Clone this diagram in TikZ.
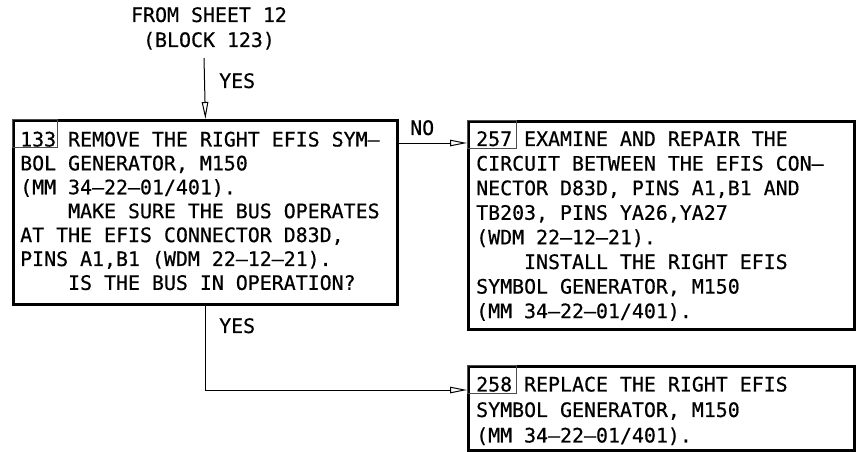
\documentclass[tikz,border=0pt]{standalone}
\usepackage{fontspec}
\usetikzlibrary{arrows.meta,calc}
\newfontfamily\monof[FakeBold=0.5]{DejaVu Sans Mono}
\newcommand{\indt}{\phantom{XXXX}}
\begin{document}
\begin{tikzpicture}[x=1pt,y=-1pt,
  box/.style={draw, line width=2.8pt, rectangle, inner sep=0pt, anchor=north west},
  numbox/.style={draw, line width=0.8pt, draw=black!70, rectangle, inner sep=0pt, anchor=north west, minimum width=49pt, minimum height=28pt},
  txt/.style={inner sep=0pt, align=left, anchor=north west},
  lbl/.style={inner sep=0pt, anchor=north west, font=\monof\fontsize{19.9}{25}\selectfont},
  arr/.style={line width=1pt, -{Triangle[open, length=17pt, width=6.5pt]}},
  ln/.style={line width=1pt}]
\useasboundingbox (0,0) rectangle (858,451);
\fill[white] (0,0) rectangle (858,451);

% boxes
\node[box, minimum width=384pt, minimum height=184pt] (b133) at (12,119) {};
\node[box, minimum width=386pt, minimum height=208pt] (b257) at (467,120) {};
\node[box, minimum width=386pt, minimum height=84pt] (b258) at (467,365) {};

% number boxes
\node[numbox, minimum width=45pt] (n133) at (b133.north west) {};
\node[numbox] (n257) at (b257.north west) {};
\node[numbox] (n258) at (b258.north west) {};

% texts
\node[txt, font=\monof\fontsize{19.9}{23.9}\selectfont] (t133) at (20,131.5) {133 REMOVE THE RIGHT EFIS SYM–\\
BOL GENERATOR, M150\\
(MM 34–22–01/401).\\
\indt MAKE SURE THE BUS OPERATES\\
AT THE EFIS CONNECTOR D83D,\\
PINS A1,B1 (WDM 22–12–21).\\
\indt IS THE BUS IN OPERATION?};

\node[txt, font=\monof\fontsize{19.9}{24.6}\selectfont] (t257) at (476,131) {257 EXAMINE AND REPAIR THE\\
CIRCUIT BETWEEN THE EFIS CON–\\
NECTOR D83D, PINS A1,B1 AND\\
TB203, PINS YA26,YA27\\
(WDM 22–12–21).\\
\indt INSTALL THE RIGHT EFIS\\
SYMBOL GENERATOR, M150\\
(MM 34–22–01/401).};

\node[txt, font=\monof\fontsize{19.9}{25.5}\selectfont] (t258) at (476,376.5) {258 REPLACE THE RIGHT EFIS\\
SYMBOL GENERATOR, M150\\
(MM 34–22–01/401).};

% source label
\node[inner sep=0pt, anchor=north, align=center, font=\monof\fontsize{19.9}{25}\selectfont] (from) at (209,7) {FROM SHEET 12\\(BLOCK 123)};

% connectors
\coordinate (c0) at (204,58);
\draw[arr] (c0) -- (b133.north);
\node[lbl] (yes1) at (219,73) {YES};

\coordinate (noS) at ($(b133.north east)+(0,24)$);
\draw[arr] (noS) -- (noS -| b257.west);
\node[lbl] (no) at (410,120) {NO};

\coordinate (yesE) at ($(b258.north west)+(0,25)$);
\draw[arr] (b133.south) |- (yesE);
\node[lbl] (yes2) at (219,318) {YES};
\end{tikzpicture}
\end{document}
